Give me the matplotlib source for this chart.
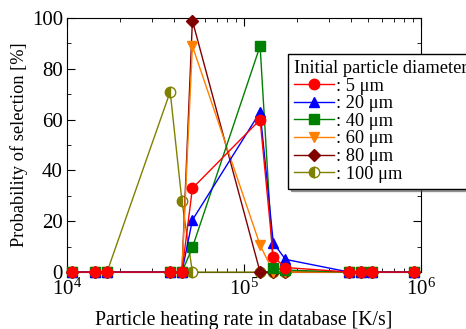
import matplotlib
matplotlib.use("Agg")
import matplotlib.pyplot as plt
from matplotlib.ticker import MultipleLocator

plt.rcParams['font.family'] = ['Liberation Serif', 'DejaVu Serif']
plt.rcParams['mathtext.fontset'] = 'stix'

# heating rate in database [K/s]
rates = [1.07e4, 1.44e4, 1.68e4, 3.82e4, 4.45e4, 5.1e4, 1.23e5,
         1.46e5, 1.71e5, 3.92e5, 4.58e5, 5.28e5, 9.1e5]

d5 = [0, 0, 0, 0, 0, 33, 60, 6, 1.8, 0, 0, 0, 0]
d20 = [0, 0, 0, 0, 0, 20.5, 63, 11.5, 5, 0, 0, 0, 0]
d40 = [0, 0, 0, 0, 0, 9.7, 89, 1.5, 0.8, 0, 0, 0, 0]
d60 = [0, 0, 0, 0, 0, 89, 10.6, 0, 0, 0, 0, 0, 0]
d80 = [0, 0, 0, 0, 0, 99, 0, 0, 0, 0, 0, 0, 0]
d100 = [0, 0, 0, 71, 28, 0, 0, 0, 0, 0, 0, 0, 0]

labels = [': 5 μm', ': 20 μm', ': 40 μm', ': 60 μm', ': 80 μm', ': 100 μm']

fig = plt.figure(figsize=(4.66, 3.29), dpi=100)
ax = fig.add_axes([0.144, 0.173, 0.76, 0.772])

series = [
    (d5, 'red', 'o', {}),
    (d20, 'blue', '^', {}),
    (d40, 'green', 's', {}),
    (d60, '#ff8000', 'v', {}),
    (d80, '#800000', 'D', {'markersize': 6}),
    (d100, '#808000', 'o', {'fillstyle': 'left', 'markerfacecoloralt': 'white'}),
]

handles = []
for i in range(len(series) - 1, -1, -1):
    vals, col, mk, extra = series[i]
    kw = dict(color=col, marker=mk, markersize=7.5, linewidth=1,
              markeredgewidth=1, clip_on=False, zorder=10 - i)
    kw.update(extra)
    h, = ax.plot(rates, vals, label=labels[i], **kw)
    handles.insert(0, h)

ax.set_xscale('log')
ax.set_xlim(1e4, 1e6)
ax.set_ylim(0, 100)
ax.yaxis.set_major_locator(MultipleLocator(20))
ax.yaxis.set_minor_locator(MultipleLocator(10))
ax.tick_params(which='both', direction='in', top=True, right=True, labelsize=15)
ax.tick_params(which='major', length=6)
ax.tick_params(which='minor', length=3)
ax.tick_params(axis='x', pad=5)
ax.tick_params(axis='y', pad=3)

ax.set_xlabel('Particle heating rate in database [K/s]', fontsize=14.2, labelpad=8)
ax.set_ylabel('Probability of selection [%]', fontsize=13.2, labelpad=3)

leg = ax.legend(handles=handles, title='Initial particle diameter',
                loc='upper left', bbox_to_anchor=(0.623, 0.858),
                fontsize=13.2, title_fontsize=13.2, alignment='left',
                frameon=True, fancybox=False, shadow=True,
                labelspacing=0.03, handlelength=2.2, handletextpad=0.1,
                borderpad=0.33, borderaxespad=0)
leg.get_frame().set_edgecolor('black')
leg.get_frame().set_linewidth(1)
leg.set_zorder(20)

fig.savefig('out.png', dpi=100)
